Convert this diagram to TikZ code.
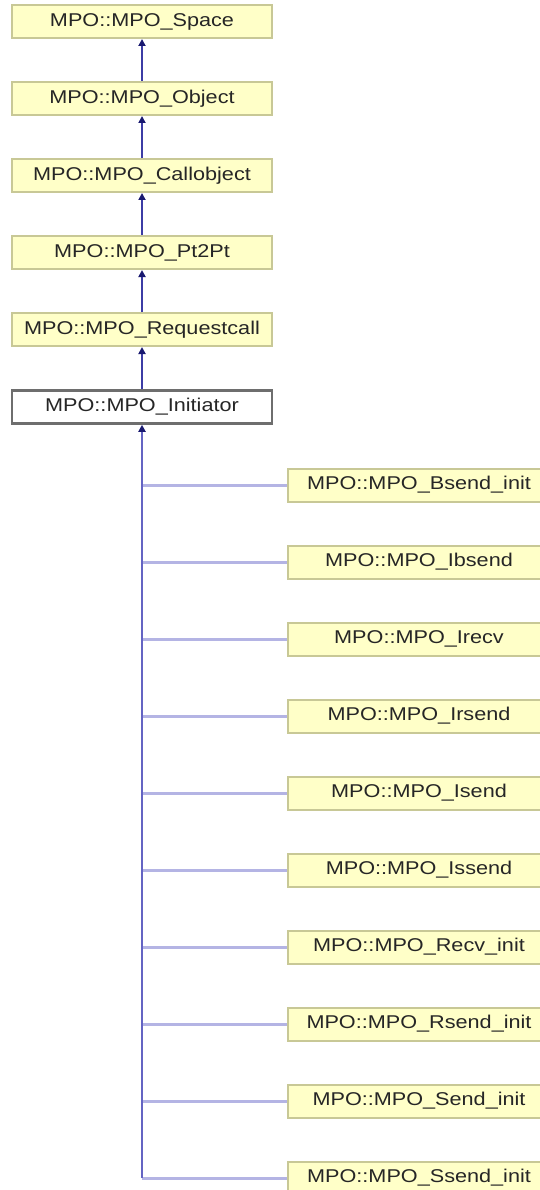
\documentclass[tikz,border=0pt]{standalone}
\usepackage{fontspec}
\newfontfamily\boxfont[FakeStretch=1.17]{Liberation Sans}
\usetikzlibrary{arrows.meta}
\definecolor{boxfill}{RGB}{255,255,200}
\definecolor{boxline}{RGB}{200,200,150}
\definecolor{curline}{RGB}{110,110,110}
\definecolor{edgeblue}{RGB}{60,60,165}
\definecolor{trunkblue}{RGB}{100,100,195}
\definecolor{branchblue}{RGB}{180,180,228}
\definecolor{tipblue}{RGB}{25,25,112}
\tikzset{
  cls/.style={draw=boxline, fill=boxfill, line width=2pt, minimum width=260pt,
    minimum height=33pt, inner sep=0pt, font=\boxfont\fontsize{18.5}{20}\selectfont, text=black!85},
  cur/.style={cls, fill=white, draw=curline, line width=2.5pt},
  tip/.style={-{Triangle[length=7pt,width=7pt,fill=tipblue,color=tipblue]}},
  inh/.style={draw=edgeblue, line width=2.3pt, tip},
  trunk/.style={draw=trunkblue, line width=2.6pt, tip},
  branch/.style={draw=branchblue, line width=3pt},
}
\begin{document}
\begin{tikzpicture}[x=1pt,y=-1pt]
\useasboundingbox (0,0) rectangle (540,1190);
\clip (0,0) rectangle (540,1190);
\node[cls] (space) at (142,21.5) {MPO::MPO\_Space};
\node[cls] (object) at (142,98.5) {MPO::MPO\_Object};
\node[cls] (callobj) at (142,175.5) {MPO::MPO\_Callobject};
\node[cls] (pt2pt) at (142,252.5) {MPO::MPO\_Pt2Pt};
\node[cls] (reqcall) at (142,329.5) {MPO::MPO\_Requestcall};
\node[cur] (init) at (142,407) {MPO::MPO\_Initiator};
\node[cls, minimum width=262pt] (c1) at (419,485) {MPO::MPO\_Bsend\_init};
\node[cls, minimum width=262pt] (c2) at (419,562) {MPO::MPO\_Ibsend};
\node[cls, minimum width=262pt] (c3) at (419,639) {MPO::MPO\_Irecv};
\node[cls, minimum width=262pt] (c4) at (419,716) {MPO::MPO\_Irsend};
\node[cls, minimum width=262pt] (c5) at (419,793) {MPO::MPO\_Isend};
\node[cls, minimum width=262pt] (c6) at (419,870) {MPO::MPO\_Issend};
\node[cls, minimum width=262pt] (c7) at (419,947) {MPO::MPO\_Recv\_init};
\node[cls, minimum width=262pt] (c8) at (419,1024) {MPO::MPO\_Rsend\_init};
\node[cls, minimum width=262pt] (c9) at (419,1101) {MPO::MPO\_Send\_init};
\node[cls, minimum width=262pt] (c10) at (419,1178) {MPO::MPO\_Ssend\_init};
\draw[inh] (object.north) -- (space.south);
\draw[inh] (callobj.north) -- (object.south);
\draw[inh] (pt2pt.north) -- (callobj.south);
\draw[inh] (reqcall.north) -- (pt2pt.south);
\draw[inh] (init.north) -- (reqcall.south);
\foreach \c in {c1,c2,c3,c4,c5,c6,c7,c8,c9,c10}
  \draw[branch] (\c.west) -- (\c.west -| init.south);
\draw[trunk] (c10.west -| init.south) -- (init.south);
\end{tikzpicture}
\end{document}
